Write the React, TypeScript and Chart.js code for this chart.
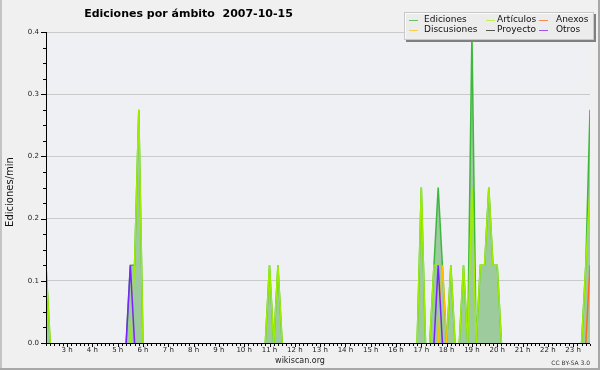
import { useEffect, useRef } from "react";
import { Chart, registerables } from "chart.js";

Chart.register(...registerables);

// 10-minute bins (only the stretches around activity; flat zero elsewhere)
const times = [
  "2:10", "2:20", "5:20", "5:30", "5:40", "5:50", "6:00",
  "10:50", "11:00", "11:10", "11:20", "11:30",
  "16:50", "17:00", "17:10", "17:20", "17:30", "17:40", "17:50", "18:00",
  "18:10", "18:20", "18:30", "18:40", "18:50", "19:00", "19:10",
  "19:20", "19:30", "19:40", "19:50", "20:00", "20:10",
  "23:20", "23:30", "23:40",
];
const ediciones = [
  0.1, 0, 0, 0.1, 0.1, 0.3, 0,
  0, 0.1, 0, 0.1, 0,
  0, 0.2, 0, 0, 0.1, 0.2, 0.1, 0,
  0.1, 0, 0, 0.1, 0, 0.4, 0,
  0.1, 0.1, 0.2, 0.1, 0.1, 0,
  0, 0.1, 0.3,
];
const articulos = [
  0.1, 0, 0, 0, 0.1, 0.3, 0,
  0, 0.1, 0, 0.1, 0,
  0, 0.2, 0, 0, 0.1, 0.1, 0, 0,
  0.1, 0, 0, 0.1, 0, 0.2, 0,
  0.1, 0.1, 0.2, 0.1, 0.1, 0,
  0, 0.1, 0.2,
];
const anexos = [
  0, 0, 0, 0, 0, 0, 0,
  0, 0, 0, 0, 0,
  0, 0, 0, 0, 0, 0, 0, 0,
  0, 0, 0, 0, 0, 0, 0,
  0, 0, 0, 0, 0, 0,
  0, 0, 0.1,
];
const discusiones = [
  0, 0, 0, 0, 0, 0, 0,
  0, 0, 0, 0, 0,
  0, 0, 0, 0, 0, 0, 0.1, 0,
  0, 0, 0, 0, 0, 0, 0,
  0, 0, 0, 0, 0, 0,
  0, 0, 0,
];
const proyecto = [
  0, 0, 0, 0, 0, 0, 0,
  0, 0, 0, 0, 0,
  0, 0, 0, 0, 0, 0, 0, 0,
  0, 0, 0, 0, 0, 0, 0,
  0, 0, 0, 0, 0, 0,
  0, 0, 0,
];
const otros = [
  0, 0, 0, 0.1, 0, 0, 0,
  0, 0, 0, 0, 0,
  0, 0, 0, 0, 0, 0.1, 0, 0,
  0, 0, 0, 0, 0, 0, 0,
  0, 0, 0, 0, 0, 0,
  0, 0, 0,
];

const hourTicks = [3, 4, 5, 6, 7, 8, 9, 10, 11, 12, 13, 14, 15, 16, 17, 18, 19, 20, 21, 22, 23];
const rangeStart = "2:10";
const rangeEnd = "23:40";
const yMax = 0.4;
const yMajorStep = 0.08;
const yMinorStep = 0.02;

const TITLE = "Ediciones por ámbito  2007-10-15";
const Y_TITLE = "Ediciones/min";
const FOOTER = "wikiscan.org";
const LICENSE = "CC BY-SA 3.0";

const FONT = "'DejaVu Sans', 'Liberation Sans', sans-serif";

function toHours(t: string): number {
  const [h, m] = t.split(":").map(Number);
  return h + m / 60;
}

function pts(values: number[]) {
  return times.map((t, i) => ({ x: toHours(t), y: values[i] }));
}

const isMajorY = (v: number) => Math.abs(v / yMajorStep - Math.round(v / yMajorStep)) < 1e-6;
const isHour = (v: number) => Math.abs(v - Math.round(v)) < 1e-6;

// hide line segments lying flat on the zero baseline (the axis covers them)
const hideFlatZero = (color: string) => (c: any) =>
  c.p0.parsed.y === 0 && c.p1.parsed.y === 0 ? "rgba(0,0,0,0)" : color;

const decor = {
  id: "decor",
  beforeDraw(chart: any) {
    const { ctx, chartArea: a, width, height } = chart;
    ctx.save();
    ctx.fillStyle = "#f0f0f0";
    ctx.fillRect(0, 0, width, height);
    ctx.fillStyle = "#eef0f3";
    ctx.fillRect(a.left, a.top, a.right - a.left, a.bottom - a.top);
    // frame
    ctx.fillStyle = "#c4c4c4";
    ctx.fillRect(0, 0, 2, height);
    ctx.fillStyle = "#a8a8a8";
    ctx.fillRect(width - 2, 0, 2, height);
    ctx.fillRect(0, height - 2, width, 2);
    ctx.restore();
  },
  afterDraw(chart: any) {
    const { ctx, chartArea: a } = chart;
    const xs = chart.scales.x;
    const ys = chart.scales.y;
    ctx.save();
    ctx.fillStyle = "#000";
    // axes
    const bottom = Math.round(a.bottom);
    const left = Math.round(a.left);
    ctx.fillRect(left - 5, bottom, Math.round(a.right) - left + 5, 1);
    ctx.fillRect(left, Math.round(a.top), 1, bottom - Math.round(a.top) + 3);
    // x ticks
    xs.ticks.forEach((t: any) => {
      const px = Math.round(xs.getPixelForValue(t.value));
      const len = isHour(t.value) ? 3 : 2;
      ctx.fillRect(px, bottom + 1, 1, len);
    });
    // y ticks
    ys.ticks.forEach((t: any) => {
      const py = Math.round(ys.getPixelForValue(t.value));
      const len = isMajorY(t.value) ? 5 : 3;
      ctx.fillRect(left - len, py, len, 1);
    });

    // title
    ctx.fillStyle = "#000";
    ctx.font = `bold 11px ${FONT}`;
    ctx.textAlign = "center";
    ctx.textBaseline = "middle";
    ctx.fillText(TITLE, 188.5, 14);

    // y title
    ctx.save();
    ctx.translate(10, 192);
    ctx.rotate(-Math.PI / 2);
    ctx.font = `10px ${FONT}`;
    ctx.fillStyle = "#111";
    ctx.fillText(Y_TITLE, 0, 0);
    ctx.restore();

    // footer
    ctx.font = `8px ${FONT}`;
    ctx.fillStyle = "#222";
    ctx.textAlign = "center";
    ctx.fillText(FOOTER, 300, 361);
    ctx.font = `6px ${FONT}`;
    ctx.textAlign = "right";
    ctx.fillStyle = "#333";
    ctx.fillText(LICENSE, 590, 363);

    // legend box
    ctx.fillStyle = "#808080";
    ctx.fillRect(406, 14, 190, 28);
    ctx.fillStyle = "rgba(250,250,250,0.88)";
    ctx.fillRect(404, 12, 190, 28);
    ctx.strokeStyle = "#c8c8c8";
    ctx.lineWidth = 1;
    ctx.strokeRect(404.5, 12.5, 189, 27);

    const slots = [
      { x: 409, tx: 424, y: 19.5 },
      { x: 486, tx: 497, y: 19.5 },
      { x: 539, tx: 556, y: 19.5 },
      { x: 409, tx: 424, y: 29.5 },
      { x: 486, tx: 497, y: 29.5 },
      { x: 539, tx: 556, y: 29.5 },
    ];
    ctx.font = `9px ${FONT}`;
    ctx.textAlign = "left";
    ctx.textBaseline = "middle";
    chart.data.datasets.forEach((ds: any, i: number) => {
      const s = slots[i];
      if (!s) return;
      ctx.fillStyle = ds.legendColor || ds.borderColor;
      ctx.fillRect(s.x, Math.round(s.y), 9, 1);
      ctx.fillStyle = "#111";
      ctx.fillText(ds.label, s.tx, s.y);
    });
    ctx.restore();
  },
};

function series(label: string, values: number[], color: string, legendColor: string, order: number, extra: any = {}) {
  return {
    label,
    data: pts(values),
    borderColor: color,
    legendColor,
    fill: false,
    borderWidth: 1.5,
    order,
    segment: { borderColor: hideFlatZero(color) },
    ...extra,
  } as any;
}

export default function App() {
  const ref = useRef<HTMLCanvasElement | null>(null);

  useEffect(() => {
    document.body.style.margin = "0";
    const canvas = ref.current;
    if (!canvas) return;
    const xMin = toHours(rangeStart);
    const xMax = toHours(rangeEnd);

    const chart = new Chart(canvas, {
      type: "line",
      data: {
        datasets: [
          series("Ediciones", ediciones, "#3db83d", "#66c266", 6, { fill: "origin", backgroundColor: "#9dcb9d" }),
          series("Artículos", articulos, "#9fee00", "#c4ee55", 5),
          series("Anexos", anexos, "#ff6a22", "#f5895a", 3),
          series("Discusiones", discusiones, "#ffc000", "#f7cf4a", 4),
          series("Proyecto", proyecto, "#555555", "#555555", 2),
          series("Otros", otros, "#7a22ff", "#9955ee", 1),
        ],
      },
      options: {
        animation: false,
        responsive: false,
        devicePixelRatio: 1,
        events: [],
        layout: { padding: { left: 8, top: 32, right: 10, bottom: 0 } },
        elements: { point: { radius: 0 }, line: { tension: 0 } },
        plugins: {
          legend: { display: false },
          title: { display: false },
          tooltip: { enabled: false },
        },
        scales: {
          x: {
            type: "linear",
            min: xMin,
            max: xMax,
            afterBuildTicks: (scale: any) => {
              const ticks: any[] = [];
              for (let v = Math.round(xMin * 6); v <= Math.round(xMax * 6); v++) {
                ticks.push({ value: v / 6 });
              }
              scale.ticks = ticks;
            },
            afterFit: (scale: any) => {
              scale.height = 27;
              scale.paddingLeft = 0;
              scale.paddingRight = 0;
            },
            ticks: {
              autoSkip: false,
              maxRotation: 0,
              padding: 3,
              color: "#222",
              font: { family: FONT, size: 7 },
              callback: (v: any) => {
                const h = Math.round(Number(v));
                return isHour(Number(v)) && hourTicks.includes(h) ? `${h} h` : "";
              },
            },
            grid: { display: true, drawOnChartArea: false, drawTicks: false },
            border: { display: false },
          },
          y: {
            type: "linear",
            min: 0,
            max: yMax,
            afterBuildTicks: (scale: any) => {
              const ticks: any[] = [];
              const n = Math.round(yMax / yMinorStep);
              for (let i = 0; i <= n; i++) ticks.push({ value: i * yMinorStep });
              scale.ticks = ticks;
            },
            afterFit: (scale: any) => {
              scale.width = 38;
            },
            ticks: {
              autoSkip: false,
              padding: 7,
              color: "#222",
              font: { family: FONT, size: 7 },
              callback: (v: any) => (isMajorY(Number(v)) ? Number(v).toFixed(1) : ""),
            },
            grid: {
              drawTicks: false,
              color: (c: any) => (c.tick && isMajorY(c.tick.value) ? "#cacaca" : "rgba(0,0,0,0)"),
              lineWidth: 1,
            },
            border: { display: false },
          },
        },
      } as any,
      plugins: [decor],
    });
    return () => chart.destroy();
  }, []);

  return <canvas ref={ref} width={600} height={370} style={{ display: "block" }} />;
}
